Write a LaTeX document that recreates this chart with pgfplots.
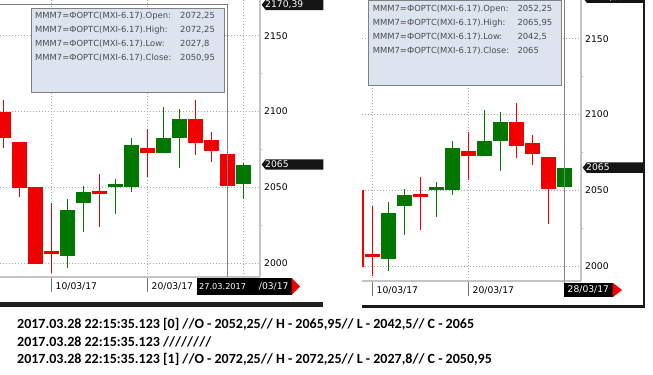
\documentclass[border=0pt]{standalone}
\usepackage{fontspec}
\setmainfont{DejaVu Sans}
\newfontfamily\carlito{Carlito}
\usepackage{pgfplots}
\usepackage{pgfplotstable}
\pgfplotsset{compat=1.18}
\definecolor{cred}{HTML}{F00000}
\definecolor{cgreen}{HTML}{007800}
\definecolor{lgnd}{HTML}{DCE4F0}
\definecolor{bord}{HTML}{C4C4C4}
\definecolor{gridc}{HTML}{A8A8A8}
\definecolor{txtg}{HTML}{4C4C4C}
\newcommand\tfont{\fontsize{9.2bp}{11bp}\selectfont}
\newcommand\lfont{\fontsize{8.4bp}{10bp}\selectfont}

% i = trading day index (4 = 10/03/17, 10 = 20/03/17, 16 = 28/03/17)
\pgfplotstableread{
i o h l c
1 2099.6 2107.6 2075.9 2082.5
2 2080.0 2080.0 2043.8 2049.7
3 2050.2 2050.2 1999.5 1999.5
4 2007.9 2039.8 1993.2 2005.7
7 2047.5 2058.9 2023.8 2045.7
10 2076.0 2088.6 2057.0 2072.8
13 2095.2 2107.6 2071.3 2079.4
14 2081.2 2086.3 2066.7 2074.1
15 2072.25 2072.25 2027.8 2050.95
}\redtab
\pgfplotstableread{
i o h l c
5 2004.8 2042.2 1996.9 2035.0
6 2039.8 2050.8 2020.7 2046.9
8 2050.4 2055.4 2032.5 2052.1
9 2050.4 2082.7 2047.0 2077.9
11 2072.8 2103.0 2072.8 2082.7
12 2082.7 2101.6 2062.9 2095.2
16 2052.25 2065.95 2042.5 2065
}\greentab

\pgfplotsset{
  candle/.style={
    scale only axis, anchor=south west,
    axis x line*=bottom, axis y line*=right,
    axis line style={draw=bord, line width=2bp},
    xtick={4,10,16}, xticklabels={10/03/17,20/03/17,{}},
    ytick={2000,2050,2100,2150}, minor ytick={2025,2075,2125},
    grid=major,
    major grid style={draw=gridc, line width=1bp, dash pattern=on 1bp off 2bp},
    tick align=outside, major tick length=15bp, minor tick length=2bp,
    major x tick style={draw=black!55, line width=1bp},
    major y tick style={draw=none},
    minor y tick style={draw=black!35, line width=1bp},
    yticklabel pos=right,
    /pgf/number format/assume math mode=true,
    /pgf/number format/1000 sep={},
    yticklabel style={anchor=west, inner sep=0pt, xshift=-11bp, font=\tfont},
    xticklabel style={anchor=west, inner sep=0pt, xshift=4bp, yshift=5.3bp, font=\tfont},
  },
  wick/.style={forget plot, no markers, draw=none,
    error bars/.cd, y dir=plus, y explicit, error mark=none,
    error bar style={draw=#1, line width=1bp, solid}},
  body/.style={forget plot, no markers, draw=none,
    error bars/.cd, y dir=plus, y explicit, error mark=none,
    error bar style={draw=#1, line width=15bp, solid}},
}

\begin{document}
\begin{tikzpicture}
\path[use as bounding box] (0bp,0bp) rectangle (653bp,-375bp);

% ---------------- left chart ----------------
\begin{axis}[candle, width=260bp, height=277bp, at={(0bp,-277bp)},
  xmin=0.78125, xmax=17.03125, ymin=1990.761, ymax=2173.56]
\addplot[wick=cred] table[x=i, y=l, y error expr=\thisrow{h}-\thisrow{l}] {\redtab};
\addplot[wick=cgreen] table[x=i, y=l, y error expr=\thisrow{h}-\thisrow{l}] {\greentab};
\addplot[body=cred] table[x=i, y=c, y error expr=\thisrow{o}-\thisrow{c}] {\redtab};
\addplot[body=cgreen] table[x=i, y=o, y error expr=\thisrow{c}-\thisrow{o}] {\greentab};
\draw[black!50, line width=1bp] (axis cs:15,1990.761) -- (axis cs:15,2170.39) -- (axis cs:0.78125,2170.39);
\coordinate (LA) at (axis cs:17.03125,2170.39);
\coordinate (LB) at (axis cs:17.03125,2065);
\end{axis}

% ---------------- right chart ----------------
\begin{axis}[candle, width=219bp, height=280.7bp, at={(362bp,-280.7bp)},
  xmin=3.34375, xmax=17.03125, ymin=1990.29, ymax=2175.69]
\addplot[wick=cred] table[x=i, y=l, y error expr=\thisrow{h}-\thisrow{l}] {\redtab};
\addplot[wick=cgreen] table[x=i, y=l, y error expr=\thisrow{h}-\thisrow{l}] {\greentab};
\addplot[body=cred] table[x=i, y=c, y error expr=\thisrow{o}-\thisrow{c}] {\redtab};
\addplot[body=cgreen] table[x=i, y=o, y error expr=\thisrow{c}-\thisrow{o}] {\greentab};
\draw[black!50, line width=1bp] (axis cs:16,1990.29) -- (axis cs:16,2175.69);
\coordinate (RA) at (axis cs:17.03125,2177.3);
\coordinate (RB) at (axis cs:17.03125,2065);
\end{axis}

% price markers
\foreach \c/\t in {LA/{2170,39}, LB/2065, RA/{2170,39}, RB/2065}{
  \fill[black!92] ([xshift=1.7bp]\c) -- ++(4bp,5.2bp) -- ++(57.6bp,0) -- ++(0,-10.4bp) -- ++(-57.6bp,0) -- cycle;
  \node[anchor=west, inner sep=0pt, text=white, font=\tfont] at ([xshift=5bp]\c) {\t};
}

\begin{scope}[x=1bp,y=-1bp]
% legend boxes
\filldraw[fill=lgnd, draw=black!50, line width=1bp] (31.5,8.3) rectangle (224.7,92.3);
\foreach \y/\n/\v in {18.3/Open:/{2072,25}, 32.6/High:/{2072,25}, 46.6/Low:/{2027,8}, 60.6/Close:/{2050,95}}{
  \node[anchor=base west, inner sep=0pt, text=txtg, font=\lfont] at (35,\y) {MMM7=ФОРТС(MXI-6.17).\n};
  \node[anchor=base west, inner sep=0pt, text=txtg, font=\lfont] at (180,\y) {\v};
}
\filldraw[fill=lgnd, draw=black!50, line width=1bp] (368.3,0.7) rectangle (561.7,85);
\foreach \y/\n/\v in {11.9/Open:/{2052,25}, 25.9/High:/{2065,95}, 39.9/Low:/{2042,5}, 53.9/Close:/2065}{
  \node[anchor=base west, inner sep=0pt, text=txtg, font=\lfont] at (372.7,\y) {MMM7=ФОРТС(MXI-6.17).\n};
  \node[anchor=base west, inner sep=0pt, text=txtg, font=\lfont] at (517.3,\y) {\v};
}

% partial first date label
\node[anchor=west, inner sep=0pt, font=\tfont] at (-40.5,286.7) {01/03/17};

% date boxes
\fill[black] (243,277.7) rectangle (291.7,295);
\fill[cred] (291.7,278) -- (300,286.5) -- (291.7,295) -- cycle;
\node[anchor=west, inner sep=0pt, text=white, font=\tfont] at (247,286.5) {28/03/17};
\fill[black] (197.3,277.7) rectangle (258,295);
\node[anchor=west, inner sep=0pt, text=white, font=\fontsize{8.2bp}{10bp}\selectfont] at (199,286.5) {27.03.2017};

\fill[black] (564.3,282.7) rectangle (612.7,297.3);
\fill[cred] (612.7,282.7) -- (622,290) -- (612.7,297.3) -- cycle;
\node[anchor=west, inner sep=0pt, text=white, font=\tfont] at (567.5,290) {28/03/17};

% frame bars
\fill[black!88] (0,302.3) rectangle (322.7,306.7);
\fill[black!90] (362,304.7) rectangle (645,307.7);
\fill[black!90] (643,-2) rectangle (645,307.7);

% log text
\begin{scope}[every node/.style={anchor=base west, inner sep=0pt, font=\carlito\bfseries\fontsize{14bp}{16bp}\selectfont}]
\node at (17,328.7) {2017.03.28 22:15:35.123 [0] //O - 2052,25// H - 2065,95// L - 2042,5// C - 2065};
\node at (17,346.2) {2017.03.28 22:15:35.123 ////////};
\node at (17,363.7) {2017.03.28 22:15:35.123 [1] //O - 2072,25// H - 2072,25// L - 2027,8// C - 2050,95};
\end{scope}
\end{scope}
\end{tikzpicture}
\end{document}
